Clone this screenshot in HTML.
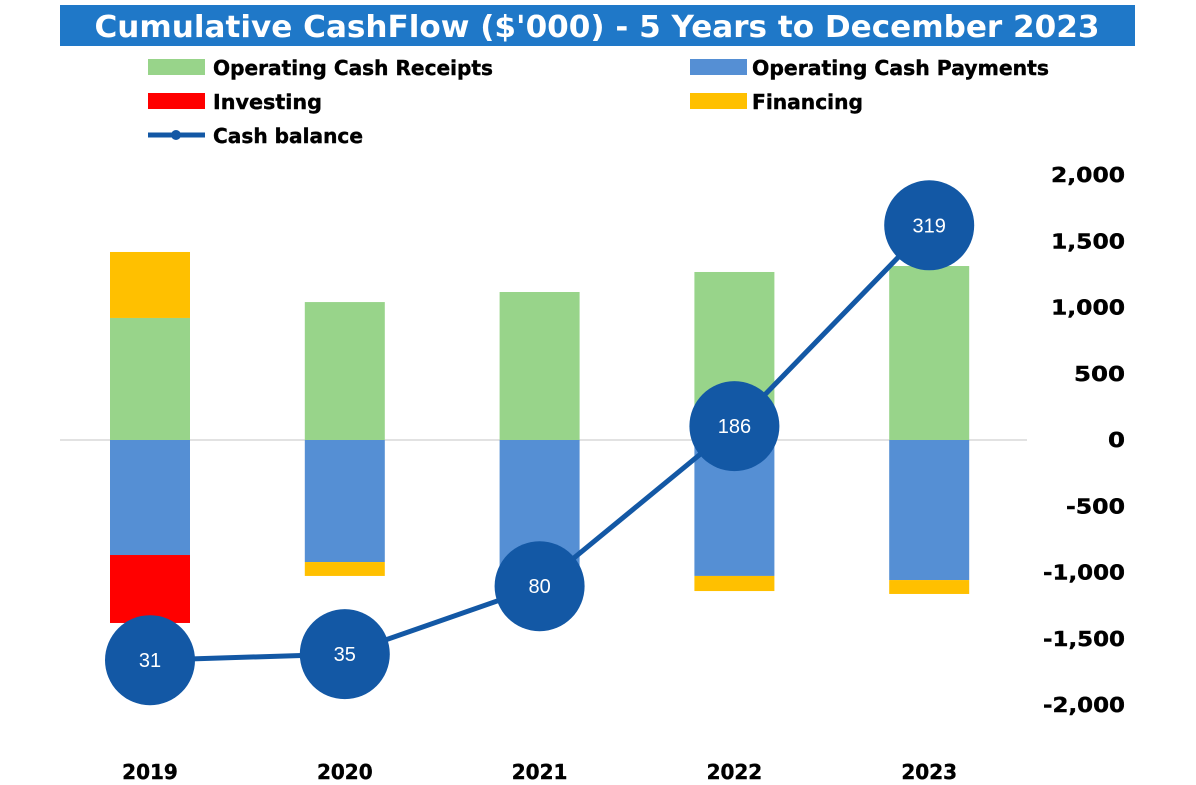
<!DOCTYPE html>
<html><head><meta charset="utf-8"><style>
body{margin:0;background:#fff;}
svg{display:block;font-family:"DejaVu Sans","Liberation Sans",sans-serif;}
</style></head><body>
<svg id="chart" width="1196" height="785" viewBox="0 0 1196 785" xmlns="http://www.w3.org/2000/svg">
<rect x="60" y="5" width="1075" height="41" fill="#1f78c8"/>
<text x="597" y="37" text-anchor="middle" font-size="30" font-weight="bold" fill="#fff" textLength="1005" lengthAdjust="spacingAndGlyphs">Cumulative CashFlow ($'000) - 5 Years to December 2023</text>
<g font-size="20" font-weight="bold" fill="#000" stroke="#000" stroke-width="0.4">
<rect x="148" y="59" width="57" height="16" fill="#98d48a" stroke="none"/>
<text x="213" y="75" textLength="280" lengthAdjust="spacingAndGlyphs">Operating Cash Receipts</text>
<rect x="690" y="59" width="57" height="16" fill="#558fd4" stroke="none"/>
<text x="752" y="75" textLength="297" lengthAdjust="spacingAndGlyphs">Operating Cash Payments</text>
<rect x="148" y="93" width="57" height="16" fill="#ff0000" stroke="none"/>
<text x="213" y="109" textLength="109" lengthAdjust="spacingAndGlyphs">Investing</text>
<rect x="690" y="93" width="57" height="16" fill="#ffc000" stroke="none"/>
<text x="752" y="109" textLength="111" lengthAdjust="spacingAndGlyphs">Financing</text>
<line x1="148" y1="135" x2="205" y2="135" stroke="#1358a5" stroke-width="5"/>
<circle cx="176" cy="135" r="5" fill="#1358a5" stroke="none"/>
<text x="213" y="143" textLength="150" lengthAdjust="spacingAndGlyphs">Cash balance</text>
</g>
<g id="plot"></g>
</svg>
<script>
const years=["2019","2020","2021","2022","2023"];
const receipts=[921,1041,1117,1268,1313];
const finPos=[498,0,0,0,0];
const payments=[-868,-921,-980,-1026,-1057];
const finNeg=[0,-105,-80,-114,-105];
const investing=[-513,0,0,0,0];
const cash=[31,35,80,186,319];
const ticks=[2000,1500,1000,500,0,-500,-1000,-1500,-2000];
const tickLabels=["2,000","1,500","1,000","500","0","-500","-1,000","-1,500","-2,000"];
const ns="http://www.w3.org/2000/svg";
const g=document.getElementById('plot');
const y=v=>440-v*0.1325;
const y2=v=>707-v*1.51;
const x=i=>150+i*194.8;
const bw=80;
function mk(t,a){const e=document.createElementNS(ns,t);for(const k in a)e.setAttribute(k,a[k]);g.appendChild(e);return e;}
function tw(s){let w=0;for(const ch of s){w+=ch===','?6:ch==='-'?8:17;}return w;}
let ax=mk('line',{x1:60,x2:1027,y1:y(0),y2:y(0),stroke:'#d9d9d9','stroke-width':1.5});


ticks.forEach((t,i)=>{const e=mk('text',{x:1125,y:y(t)+7,'text-anchor':'end','font-size':20,'font-weight':'bold',stroke:'#000','stroke-width':0.4});e.textContent=tickLabels[i];
e.setAttribute('textLength',tw(tickLabels[i]));
e.setAttribute('lengthAdjust','spacingAndGlyphs');

});
function bar(i,a,b,c,name){const r=mk('rect',{x:x(i)-bw/2,y:y(Math.max(a,b)),width:bw,height:Math.abs(y(a)-y(b)),fill:c});

}
years.forEach((yr,i)=>{
bar(i,0,receipts[i],'#98d48a','bar-receipts-'+yr);
if(finPos[i])bar(i,receipts[i],receipts[i]+finPos[i],'#ffc000','bar-financing-'+yr);
bar(i,0,payments[i],'#558fd4','bar-payments-'+yr);
let b=payments[i];
if(finNeg[i]){bar(i,b,b+finNeg[i],'#ffc000','bar-financing-neg-'+yr);b+=finNeg[i];}
if(investing[i])bar(i,b,b+investing[i],'#ff0000','bar-investing-'+yr);
const t=mk('text',{x:x(i),y:779,'text-anchor':'middle','font-size':20,'font-weight':'bold',stroke:'#000','stroke-width':0.4});t.textContent=yr;


});
const pl=mk('polyline',{points:cash.map((v,i)=>x(i)+','+y2(v)).join(' '),fill:'none',stroke:'#1358a5','stroke-width':5});


cash.forEach((v,i)=>{
const c=mk('circle',{cx:x(i),cy:y2(v),r:45,fill:'#1358a5'});


const t=mk('text',{x:x(i),y:y2(v)+7,'text-anchor':'middle','font-size':20,fill:'#fff','font-family':'Liberation Sans, sans-serif'});t.textContent=v;


});
</script>
</body></html>
